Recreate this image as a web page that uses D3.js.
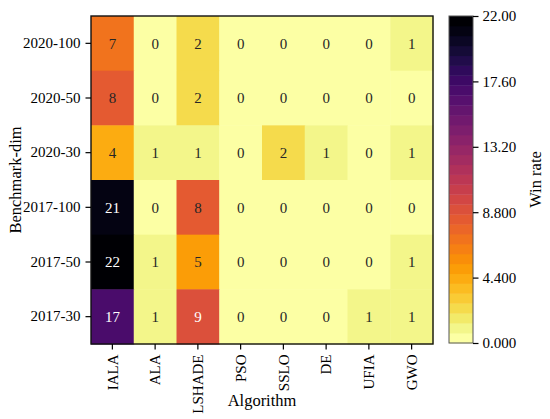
<!DOCTYPE html>
<html>
<head>
<meta charset="utf-8">
<script src="https://cdn.jsdelivr.net/npm/d3@7"></script>
<style>
  html, body { margin: 0; padding: 0; background: #fff; }
  svg { display: block; }
  text { font-family: "Liberation Serif", "Times New Roman", serif; }
</style>
</head>
<body>
<svg id="chart" width="550" height="419"></svg>
<script>
// ---- data ----
const algorithms = ["IALA", "ALA", "LSHADE", "PSO", "SSLO", "DE", "UFIA", "GWO"];
const benchmarks = ["2020-100", "2020-50", "2020-30", "2017-100", "2017-50", "2017-30"];
const row2020_100 = [7, 0, 2, 0, 0, 0, 0, 1];
const row2020_50  = [8, 0, 2, 0, 0, 0, 0, 0];
const row2020_30  = [4, 1, 1, 0, 2, 1, 0, 1];
const row2017_100 = [21, 0, 8, 0, 0, 0, 0, 0];
const row2017_50  = [22, 1, 5, 0, 0, 0, 0, 1];
const row2017_30  = [17, 1, 9, 0, 0, 0, 1, 1];
const colorTicks = [0, 4.4, 8.8, 13.2, 17.6, 22];
const colorTickLabels = ["0.000", "4.400", "8.800", "13.20", "17.60", "22.00"];
const vmin = 0, vmax = 22;
const nLevels = 33;
const whiteTextAbove = 8.5;

const rows = [row2020_100, row2020_50, row2020_30, row2017_100, row2017_50, row2017_30];
const cells = [];
rows.forEach((r, i) => r.forEach((v, j) => cells.push({ b: benchmarks[i], a: algorithms[j], v })));

// ---- layout ----
const svg = d3.select("#chart");
const L = 91, R = 433, T = 16, B = 344;
const cbL = 449, cbR = 473, cbT = 16, cbB = 343;
const fontTick = 15, fontLabel = 16.5;

const x = d3.scaleBand().domain(algorithms).range([L, R]);
const y = d3.scaleBand().domain(benchmarks).range([T, B]);

// discrete reversed inferno
const levelColor = i => d3.interpolateInferno(1 - i / (nLevels - 1));
const levelOf = v => Math.max(0, Math.min(nLevels - 1, Math.floor((v - vmin) / (vmax - vmin) * nLevels + 1e-9)));
const color = v => levelColor(levelOf(v));

// cells
svg.append("g").selectAll("rect").data(cells).join("rect")
  .attr("x", d => x(d.a)).attr("y", d => y(d.b))
  .attr("width", x.bandwidth() + 0.5).attr("height", y.bandwidth() + 0.5)
  .attr("fill", d => color(d.v));

svg.append("g").selectAll("text").data(cells).join("text")
  .attr("x", d => x(d.a) + x.bandwidth() / 2)
  .attr("y", d => y(d.b) + y.bandwidth() / 2)
  .attr("text-anchor", "middle").attr("dy", "0.35em")
  .attr("font-size", fontTick)
  .attr("fill", d => d.v > whiteTextAbove ? "#ffffff" : "#262626")
  .text(d => d.v);

// frame
svg.append("rect").attr("x", L).attr("y", T).attr("width", R - L).attr("height", B - T)
  .attr("fill", "none").attr("stroke", "#111").attr("stroke-width", 1.4);

// axes
const gx = svg.append("g").attr("transform", `translate(0,${B})`)
  .call(d3.axisBottom(x).tickSize(5.5).tickPadding(5));
gx.select(".domain").remove();
gx.selectAll(".tick line").attr("stroke", "#000").attr("stroke-width", 1.2);
gx.selectAll(".tick text")
  .attr("font-size", fontTick).attr("fill", "#000")
  .attr("text-anchor", "end")
  .attr("transform", "rotate(-90)")
  .attr("x", -10.5).attr("y", 0).attr("dy", "0.35em");

const gy = svg.append("g").attr("transform", `translate(${L},0)`)
  .call(d3.axisLeft(y).tickSize(5.5).tickPadding(5));
gy.select(".domain").remove();
gy.selectAll(".tick line").attr("stroke", "#000").attr("stroke-width", 1.2);
gy.selectAll(".tick text").attr("font-size", fontTick).attr("fill", "#000");

svg.append("text").attr("x", (L + R) / 2).attr("y", 406)
  .attr("text-anchor", "middle").attr("font-size", fontLabel).text("Algorithm");
svg.append("text").attr("transform", `translate(21,${(T + B) / 2}) rotate(-90)`)
  .attr("text-anchor", "middle").attr("font-size", fontLabel).text("Benchmark-dim");

// colorbar
const cy = d3.scaleLinear().domain([vmin, vmax]).range([cbB, cbT]);
const levels = d3.range(nLevels);
const step = (vmax - vmin) / nLevels;
svg.append("g").selectAll("rect").data(levels).join("rect")
  .attr("x", cbL).attr("width", cbR - cbL)
  .attr("y", i => cy(vmin + (i + 1) * step))
  .attr("height", i => cy(vmin + i * step) - cy(vmin + (i + 1) * step) + 0.4)
  .attr("fill", i => levelColor(i));
svg.append("rect").attr("x", cbL).attr("y", cbT).attr("width", cbR - cbL).attr("height", cbB - cbT)
  .attr("fill", "none").attr("stroke", "#555").attr("stroke-width", 1);

const gc = svg.append("g").attr("transform", `translate(${cbR},0)`)
  .call(d3.axisRight(cy).tickValues(colorTicks).tickFormat((d, i) => colorTickLabels[i]).tickSize(5.5).tickPadding(4));
gc.select(".domain").remove();
gc.selectAll(".tick line").attr("stroke", "#000").attr("stroke-width", 1.2);
gc.selectAll(".tick text").attr("font-size", fontTick).attr("fill", "#000");

svg.append("text").attr("transform", `translate(541,${(cbT + cbB) / 2}) rotate(-90)`)
  .attr("text-anchor", "middle").attr("font-size", fontLabel).text("Win rate");
</script>
</body>
</html>
